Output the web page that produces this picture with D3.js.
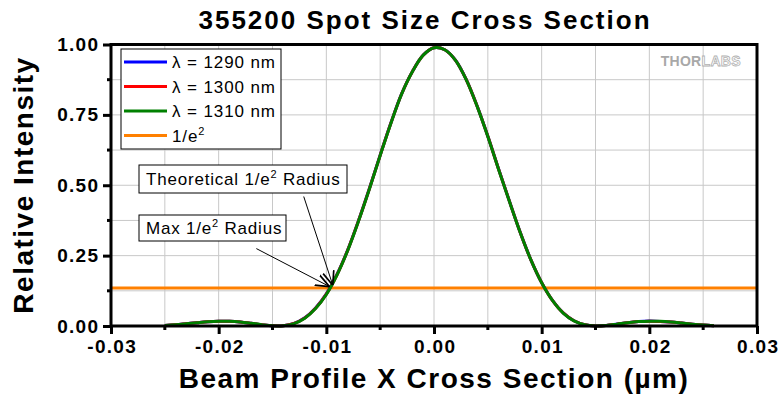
<!DOCTYPE html>
<html>
<head>
<meta charset="utf-8">
<script src="https://cdn.jsdelivr.net/npm/d3@7"></script>
<style>
  body { margin: 0; background: #fff; }
  svg { display: block; font-family: Arial, "Liberation Sans", sans-serif; }
</style>
</head>
<body>
<div id="wrapper"></div>
<script>
// beam position and relative intensity per wavelength
const xValues = [-0.025, -0.024, -0.023, -0.022, -0.021, -0.020, -0.019, -0.018, -0.017, -0.016,
    -0.015, -0.014, -0.013, -0.012, -0.011, -0.010, -0.009, -0.008, -0.007, -0.006,
    -0.005, -0.004, -0.003, -0.002, -0.001, 0.000, 0.001, 0.002, 0.003, 0.004,
    0.005, 0.006, 0.007, 0.008, 0.009, 0.010, 0.011, 0.012, 0.013, 0.014,
    0.015, 0.016, 0.017, 0.018, 0.019, 0.020, 0.021, 0.022, 0.023, 0.024,
    0.025, 0.026];

const int1290 = [0.0018, 0.0044, 0.0081, 0.0119, 0.0153, 0.0171, 0.0170, 0.0144, 0.0097, 0.0045,
    0.0005, 0.0010, 0.0092, 0.0290, 0.0640, 0.1140, 0.1840, 0.2715, 0.3755, 0.4885,
    0.6070, 0.7218, 0.8255, 0.9045, 0.9625, 0.9885, 0.9814, 0.9440, 0.8752, 0.7820,
    0.6742, 0.5575, 0.4440, 0.3335, 0.2352, 0.1540, 0.0912, 0.0465, 0.0186, 0.0043,
    0.0000, 0.0020, 0.0068, 0.0120, 0.0158, 0.0174, 0.0164, 0.0139, 0.0103, 0.0064,
    0.0032, 0.0010];

const int1300 = [0.0018, 0.0044, 0.0080, 0.0118, 0.0152, 0.0170, 0.0169, 0.0145, 0.0099, 0.0047,
    0.0006, 0.0008, 0.0088, 0.0283, 0.0629, 0.1130, 0.1830, 0.2706, 0.3746, 0.4876,
    0.6062, 0.7212, 0.8251, 0.9042, 0.9623, 0.9884, 0.9813, 0.9438, 0.8748, 0.7815,
    0.6737, 0.5569, 0.4436, 0.3331, 0.2349, 0.1537, 0.0910, 0.0463, 0.0185, 0.0043,
    0.0000, 0.0019, 0.0067, 0.0119, 0.0157, 0.0173, 0.0164, 0.0140, 0.0104, 0.0065,
    0.0033, 0.0011];

const int1310 = [0.0019, 0.0045, 0.0080, 0.0117, 0.0151, 0.0169, 0.0169, 0.0146, 0.0101, 0.0049,
    0.0007, 0.0006, 0.0085, 0.0277, 0.0620, 0.1121, 0.1821, 0.2698, 0.3738, 0.4868,
    0.6055, 0.7206, 0.8247, 0.9039, 0.9621, 0.9883, 0.9812, 0.9436, 0.8744, 0.7810,
    0.6732, 0.5563, 0.4431, 0.3327, 0.2346, 0.1534, 0.0908, 0.0461, 0.0184, 0.0044,
    0.0001, 0.0018, 0.0066, 0.0118, 0.0156, 0.0172, 0.0165, 0.0141, 0.0105, 0.0066,
    0.0034, 0.0012];

const invE2 = 0.1353;

const seriesNames = ["λ = 1290 nm", "λ = 1300 nm", "λ = 1310 nm"];
const seriesColors = ["#0000ff", "#ff0000", "#008000"];

const xTicks = [-0.03, -0.02, -0.01, 0.00, 0.01, 0.02, 0.03];
const yTicks = [0.00, 0.25, 0.50, 0.75, 1.00];

// annotation labels and the point each arrow points to
const notes = [
    { text: "Theoretical 1/e", sup: "2", rest: " Radius", from: [-0.0121, 0.46], to: [-0.0094, 0.145] },
    { text: "Max 1/e", sup: "2", rest: " Radius", from: [-0.0165, 0.275], to: [-0.0097, 0.14] }
];

const dimension = {
    width: 780,
    height: 397,
    margin: { top: 44.5, left: 111, bottom: 71, right: 23 }
};
dimension.boundedWidth = dimension.width - dimension.margin.left - dimension.margin.right;
dimension.boundedHeight = dimension.height - dimension.margin.top - dimension.margin.bottom;

const svg = d3.select("#wrapper").append("svg")
    .attr("width", dimension.width)
    .attr("height", dimension.height);

const bounded = svg.append("g")
    .attr("transform", `translate(${dimension.margin.left},${dimension.margin.top})`);

const xScaler = d3.scaleLinear().domain([-0.03, 0.03]).range([0, dimension.boundedWidth]);
const yScaler = d3.scaleLinear().domain([0, 1]).range([dimension.boundedHeight, 0]);

// grid at every major + minor tick
bounded.append("g").selectAll("line")
    .data(d3.range(-0.025, 0.0251, 0.005))
    .join("line")
    .attr("x1", d => xScaler(d)).attr("x2", d => xScaler(d))
    .attr("y1", 0).attr("y2", dimension.boundedHeight)
    .attr("stroke", "#c8c8c8").attr("stroke-width", 1);

bounded.append("g").selectAll("line")
    .data(d3.range(0.125, 1, 0.125))
    .join("line")
    .attr("x1", 0).attr("x2", dimension.boundedWidth)
    .attr("y1", d => yScaler(d)).attr("y2", d => yScaler(d))
    .attr("stroke", "#c8c8c8").attr("stroke-width", 1);

// logo
const logo = bounded.append("text")
    .attr("x", xScaler(0.0285)).attr("y", yScaler(0.925))
    .attr("text-anchor", "end")
    .style("font-size", "14px").style("font-weight", "bold").style("letter-spacing", "0.3px");
logo.append("tspan").attr("fill", "#a8a8a8").text("THOR");
logo.append("tspan").attr("fill", "#fff").attr("stroke", "#b0b0b0").attr("stroke-width", 0.8).text("LABS");

// 1/e^2 level
bounded.append("line")
    .attr("x1", xScaler(-0.03)).attr("x2", xScaler(0.03))
    .attr("y1", yScaler(invE2)).attr("y2", yScaler(invE2))
    .attr("stroke", "#ff8000").attr("stroke-width", 3);

const seriesData = [int1290, int1300, int1310];
seriesData.forEach((vals, i) => {
    const line = d3.line()
        .x((d, j) => xScaler(xValues[j]))
        .y(d => yScaler(d))
        .curve(d3.curveCatmullRom);
    bounded.append("path")
        .attr("d", line(vals))
        .attr("fill", "none")
        .attr("stroke", seriesColors[i])
        .attr("stroke-width", 3);
});

// axes
const fmt = d => d3.format(".2f")(d).replace("−", "-");
const xAxis = d3.axisBottom(xScaler).tickValues(xTicks).tickFormat(fmt).tickSize(8).tickPadding(6);
const yAxis = d3.axisLeft(yScaler).tickValues(yTicks).tickFormat(fmt).tickSize(8).tickPadding(5);

const gx = bounded.append("g")
    .attr("transform", `translate(0,${dimension.boundedHeight})`)
    .call(xAxis);
const gy = bounded.append("g").call(yAxis);

[gx, gy].forEach(g => {
    g.select(".domain").remove();
    g.selectAll(".tick line").attr("stroke", "#000").attr("stroke-width", 3);
    g.selectAll(".tick text")
        .attr("fill", "#000")
        .style("font-size", "19px")
        .style("font-weight", "bold")
        .style("letter-spacing", "1.3px")
        .style("font-family", "Arial, 'Liberation Sans', sans-serif");
});
gx.selectAll(".tick text").attr("dx", "0.65px");
gy.selectAll(".tick text").attr("dx", "1.3px");

// minor ticks
bounded.append("g").selectAll("line")
    .data([-0.025, -0.015, -0.005, 0.005, 0.015, 0.025])
    .join("line")
    .attr("x1", d => xScaler(d)).attr("x2", d => xScaler(d))
    .attr("y1", dimension.boundedHeight).attr("y2", dimension.boundedHeight + 4)
    .attr("stroke", "#000").attr("stroke-width", 3);
bounded.append("g").selectAll("line")
    .data([0.125, 0.375, 0.625, 0.875])
    .join("line")
    .attr("x1", 0).attr("x2", -4)
    .attr("y1", d => yScaler(d)).attr("y2", d => yScaler(d))
    .attr("stroke", "#000").attr("stroke-width", 3);

// frame
bounded.append("rect")
    .attr("width", dimension.boundedWidth).attr("height", dimension.boundedHeight)
    .attr("fill", "none").attr("stroke", "#000").attr("stroke-width", 3);

// legend
const legend = bounded.append("g").attr("transform", "translate(10,4.5)");
legend.append("rect")
    .attr("width", 160).attr("height", 100)
    .attr("fill", "#fff").attr("stroke", "#000").attr("stroke-width", 1);
const legendItems = seriesNames.map((n, i) => ({ name: n, color: seriesColors[i] }))
    .concat([{ name: "1/e", sup: "2", color: "#ff8000" }]);
legendItems.forEach((it, i) => {
    const yy = 13 + i * 24.5;
    legend.append("line")
        .attr("x1", 3).attr("x2", 46).attr("y1", yy).attr("y2", yy)
        .attr("stroke", it.color).attr("stroke-width", 3);
    const t = legend.append("text")
        .attr("x", 51).attr("y", yy + 6)
        .style("font-size", "17px").style("letter-spacing", "0.9px").text(it.name);
    if (it.sup) t.append("tspan").attr("dy", -7).style("font-size", "11px").text(it.sup);
});

// annotations
const defs = svg.append("defs");
defs.append("marker")
    .attr("id", "arrow").attr("viewBox", "0 0 10 10")
    .attr("refX", 10).attr("refY", 5)
    .attr("markerWidth", 14).attr("markerHeight", 14)
    .attr("markerUnits", "userSpaceOnUse")
    .attr("orient", "auto")
    .append("path").attr("d", "M0,1 L10,5 L0,9")
    .attr("fill", "none").attr("stroke", "#000").attr("stroke-width", 1.2);

notes.forEach(n => {
    bounded.append("line")
        .attr("x1", xScaler(n.from[0])).attr("y1", yScaler(n.from[1]))
        .attr("x2", xScaler(n.to[0])).attr("y2", yScaler(n.to[1]))
        .attr("stroke", "#000").attr("stroke-width", 1)
        .attr("marker-end", "url(#arrow)");
});

const noteBoxes = [
    { x: 28, y: 120.5, w: 208, h: 28, note: notes[0] },
    { x: 28, y: 170.5, w: 147, h: 26, note: notes[1] }
];
noteBoxes.forEach(b => {
    bounded.append("rect")
        .attr("x", b.x).attr("y", b.y).attr("width", b.w).attr("height", b.h)
        .attr("fill", "#fff").attr("stroke", "#000").attr("stroke-width", 1);
    const t = bounded.append("text")
        .attr("x", b.x + 7).attr("y", b.y + b.h / 2 + 6)
        .style("font-size", "17px").style("letter-spacing", "0.8px").text(b.note.text);
    t.append("tspan").attr("dy", -7).style("font-size", "11px").text(b.note.sup);
    t.append("tspan").attr("dy", 7).text(b.note.rest);
});

// titles
svg.append("text")
    .attr("x", 425).attr("y", 29)
    .attr("text-anchor", "middle")
    .style("font-size", "26px").style("font-weight", "bold").style("letter-spacing", "2px")
    .text("355200 Spot Size Cross Section");

svg.append("text")
    .attr("x", 434).attr("y", 388)
    .attr("text-anchor", "middle")
    .style("font-size", "28px").style("font-weight", "bold").style("letter-spacing", "1.5px")
    .text("Beam Profile X Cross Section (µm)");

svg.append("text")
    .attr("transform", "translate(33,185) rotate(-90)")
    .attr("text-anchor", "middle")
    .style("font-size", "28px").style("font-weight", "bold").style("letter-spacing", "1.5px")
    .text("Relative Intensity");
</script>
</body>
</html>
